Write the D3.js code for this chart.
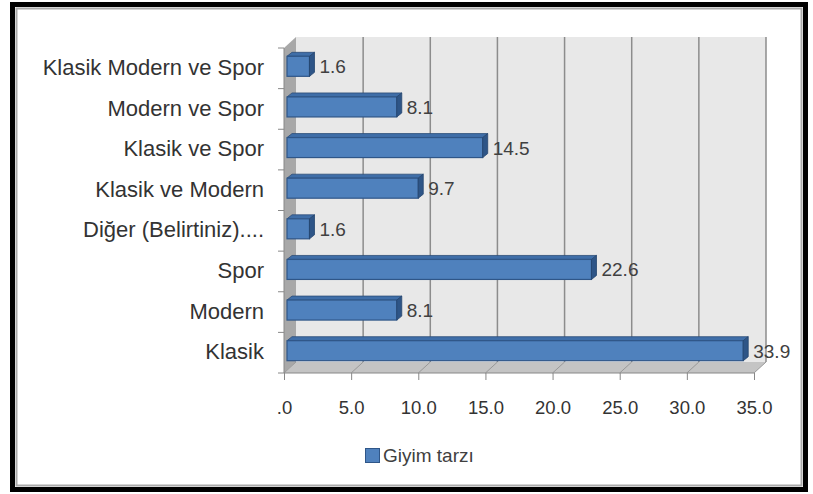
<!DOCTYPE html>
<html lang="en">
<head>
    <meta charset="UTF-8">
    <title>Giyim tarzı</title>
    <script src="https://d3js.org/d3.v7.min.js"></script>
    <style>
        body { margin: 0; background: #fff; }
        .cat text { font-family: "Liberation Sans", Arial, sans-serif; font-size: 22px; fill: #333; }
        .xaxis text { font-family: "Liberation Sans", Arial, sans-serif; font-size: 18.5px; fill: #333; }
        .val { font-family: "Liberation Sans", Arial, sans-serif; font-size: 19px; fill: #404040; }
        .legend { font-family: "Liberation Sans", Arial, sans-serif; font-size: 19px; fill: #404040; }
    </style>
</head>
<body>
<svg width="813" height="494"></svg>
<script>
    // data (top to bottom as shown)
    const categories = ["Klasik Modern ve Spor", "Modern ve Spor", "Klasik ve Spor", "Klasik ve Modern",
                        "Diğer (Belirtiniz)....", "Spor", "Modern", "Klasik"];
    const values = [1.6, 8.1, 14.5, 9.7, 1.6, 22.6, 8.1, 33.9];
    const xTicks = [0, 5, 10, 15, 20, 25, 30, 35];
    const seriesName = "Giyim tarzı";

    const svg = d3.select("svg");

    // outer frame
    svg.append("rect").attr("x", 12.5).attr("y", 4.5).attr("width", 793).attr("height", 485)
        .attr("fill", "#fff").attr("stroke", "#000").attr("stroke-width", 5);
    svg.append("rect").attr("x", 16.5).attr("y", 8.5).attr("width", 785).attr("height", 477)
        .attr("fill", "none").attr("stroke", "#aaa").attr("stroke-width", 2);

    // 3d depth offset
    const dx = 12, dy = -11;

    const x = d3.scaleLinear().domain([0, 35]).range([284, 754]);
    const y = d3.scaleBand().domain(categories).range([48, 373]);
    const floorY = 373;
    const topY = 48;

    // back wall
    svg.append("rect")
        .attr("x", x(0) + dx).attr("y", topY + dy)
        .attr("width", x(35) - x(0)).attr("height", floorY - topY)
        .attr("fill", "#e8e8e8");

    // left side wall
    svg.append("path")
        .attr("d", `M${x(0)},${topY} L${x(0) + dx},${topY + dy} L${x(0) + dx},${floorY + dy} L${x(0)},${floorY} Z`)
        .attr("fill", "#a8a8a8");

    // floor
    svg.append("path")
        .attr("d", `M${x(0)},${floorY} L${x(0) + dx},${floorY + dy} L${x(35) + dx},${floorY + dy} L${x(35)},${floorY} Z`)
        .attr("fill", "#c4c4c4");

    // gridlines on back wall + floor
    xTicks.forEach(t => {
        if (t > 0) {
            svg.append("line")
                .attr("x1", x(t) + dx).attr("x2", x(t) + dx)
                .attr("y1", topY + dy).attr("y2", floorY + dy)
                .attr("stroke", "#8c8c8c").attr("stroke-width", 1.5);
        }
        svg.append("line")
            .attr("x1", x(t)).attr("y1", floorY)
            .attr("x2", x(t) + dx).attr("y2", floorY + dy)
            .attr("stroke", "#999").attr("stroke-width", 1);
    });

    // bars (front face, top face, end cap)
    const bh = 20, bdx = 5, bdy = -4;
    const bars = svg.append("g");
    categories.forEach((c, i) => {
        const x0 = x(0) + 3, x1 = x(values[i]) + 4;
        const yTop = y(c) + y.bandwidth() / 2 - bh / 2 - 2;
        bars.append("path")
            .attr("d", `M${x0},${yTop} L${x0 + bdx},${yTop + bdy} L${x1 + bdx},${yTop + bdy} L${x1},${yTop} Z`)
            .attr("fill", "#3f6ea8").attr("stroke", "#2c4d77").attr("stroke-width", 0.8);
        bars.append("rect")
            .attr("x", x0).attr("y", yTop)
            .attr("width", x1 - x0).attr("height", bh)
            .attr("fill", "#4f81bd").attr("stroke", "#2f5688").attr("stroke-width", 1.2);
        bars.append("path")
            .attr("d", `M${x1},${yTop} L${x1 + bdx},${yTop + bdy} L${x1 + bdx},${yTop + bh + bdy} L${x1},${yTop + bh} Z`)
            .attr("fill", "#2e5587").attr("stroke", "#24456f").attr("stroke-width", 0.8);
        svg.append("text")
            .attr("class", "val")
            .attr("x", x1 + bdx + 5)
            .attr("y", yTop + bh / 2 + 7)
            .text(values[i].toFixed(1));
    });

    // x axis
    const xAxis = d3.axisBottom(x).tickValues(xTicks).tickSize(7).tickPadding(21)
        .tickFormat(d => d === 0 ? ".0" : d.toFixed(1));
    const gx = svg.append("g").attr("class", "xaxis").attr("transform", `translate(0,${floorY})`).call(xAxis);
    gx.select(".domain").attr("stroke", "#888").attr("d", `M${x(0)},0H${x(35)}`);
    gx.selectAll(".tick line").attr("stroke", "#888");

    // category labels + boundary ticks
    const yAxis = d3.axisLeft(y).tickSize(0).tickPadding(20);
    const gy = svg.append("g").attr("class", "cat").attr("transform", `translate(${x(0)},0)`).call(yAxis);
    gy.select(".domain").remove();
    gy.selectAll(".tick text").attr("dy", "0.3em");
    const bounds = categories.map(c => y(c)).concat([floorY]);
    bounds.forEach(b => {
        svg.append("line").attr("x1", x(0) - 6).attr("x2", x(0)).attr("y1", b).attr("y2", b)
            .attr("stroke", "#888");
    });
    svg.append("line").attr("x1", x(0)).attr("x2", x(0)).attr("y1", topY).attr("y2", floorY)
        .attr("stroke", "#888");

    // legend
    svg.append("rect").attr("x", 365.5).attr("y", 448.5).attr("width", 14).attr("height", 14)
        .attr("fill", "#4f81bd").attr("stroke", "#2f5688");
    svg.append("text").attr("class", "legend").attr("x", 383).attr("y", 462).text(seriesName);
</script>
</body>
</html>
